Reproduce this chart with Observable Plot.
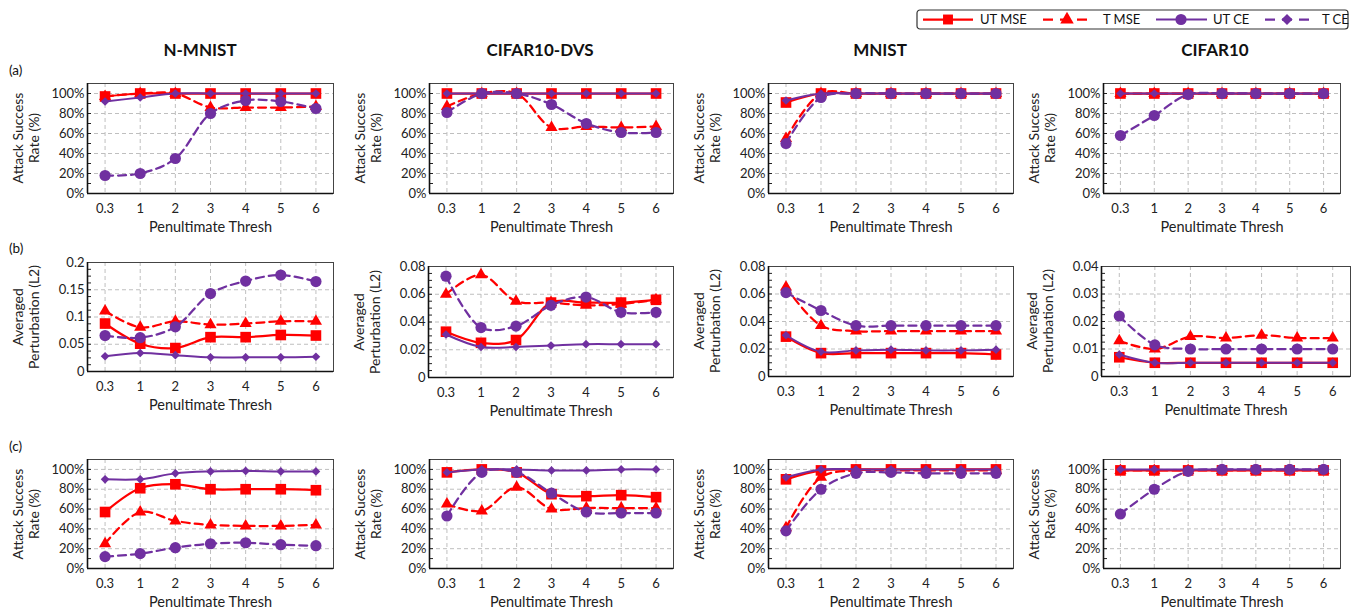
<!DOCTYPE html>
<html><head><meta charset="utf-8">
<script src="https://cdn.jsdelivr.net/npm/d3@7"></script>
<script src="https://cdn.jsdelivr.net/npm/@observablehq/plot@0.6"></script>
<style>
body{margin:0;background:#fff;font-family:Lato,"Open Sans",sans-serif;color:#111;}
#root{position:relative;width:1353px;height:612px;overflow:hidden;}
.abs{position:absolute;white-space:nowrap;}
.title{font-weight:bold;font-size:17px;transform:translateX(-50%);}
.tag{font-size:13.5px;}
.ylab{font-size:14px;line-height:16px;text-align:center;color:#222;transform:translate(-50%,-50%) rotate(-90deg);}
</style></head><body><div id="root"></div>
<script>
const thresholds = ["0.3","1","2","3","4","5","6"];
const datasets = ["N-MNIST","CIFAR10-DVS","MNIST","CIFAR10"];
const rowTags = ["(a)","(b)","(c)"];
const seriesNames = ["UT MSE","T MSE","UT CE","T CE"];
const yLabels = [["Attack Success","Rate (%)"],["Averaged","Perturbation (L2)"],["Attack Success","Rate (%)"]];
const xTitle = "Penultimate Thresh";
const pctTicks = [0,0.2,0.4,0.6,0.8,1.0];
const l2Ticks = [[0,0.05,0.1,0.15,0.2],[0,0.02,0.04,0.06,0.08],[0,0.02,0.04,0.06,0.08],[0,0.01,0.02,0.03,0.04]];

// Row (a): attack success rate, one list per dataset (N-MNIST, CIFAR10-DVS, MNIST, CIFAR10)
const utMSE_a = [[0.97,1,1,1,1,1,1],[1,1,1,1,1,1,1],[0.91,1,1,1,1,1,1],[1,1,1,1,1,1,1]];
const tMSE_a  = [[0.97,1,1,0.86,0.86,0.86,0.87],[0.87,1,1,0.66,0.67,0.66,0.67],[0.55,1,1,1,1,1,1],[1,1,1,1,1,1,1]];
const utCE_a  = [[0.92,0.96,1,1,1,1,1],[1,1,1,1,1,1,1],[0.93,1,1,1,1,1,1],[1,1,1,1,1,1,1]];
const tCE_a   = [[0.18,0.20,0.35,0.80,0.93,0.92,0.85],[0.81,1,1,0.89,0.70,0.61,0.61],[0.50,0.96,1,1,1,1,1],[0.58,0.78,0.99,1,1,1,1]];
// Row (b): averaged perturbation (L2)
const utMSE_b = [[0.088,0.051,0.043,0.063,0.063,0.067,0.066],[0.033,0.025,0.027,0.054,0.054,0.054,0.056],[0.029,0.017,0.017,0.017,0.017,0.017,0.016],[0.007,0.005,0.005,0.005,0.005,0.005,0.005]];
const tMSE_b  = [[0.111,0.081,0.092,0.086,0.088,0.092,0.092],[0.060,0.074,0.055,0.054,0.052,0.053,0.056],[0.065,0.037,0.033,0.033,0.033,0.033,0.033],[0.013,0.010,0.0145,0.014,0.015,0.014,0.014]];
const utCE_b  = [[0.028,0.034,0.030,0.026,0.026,0.026,0.027],[0.031,0.022,0.022,0.023,0.024,0.024,0.024],[0.030,0.018,0.019,0.0195,0.019,0.019,0.0195],[0.008,0.005,0.005,0.005,0.005,0.005,0.005]];
const tCE_b   = [[0.066,0.062,0.082,0.143,0.166,0.177,0.165],[0.073,0.036,0.037,0.052,0.058,0.047,0.047],[0.061,0.048,0.037,0.037,0.037,0.037,0.037],[0.022,0.0115,0.010,0.010,0.010,0.010,0.010]];
// Row (c): attack success rate
const utMSE_c = [[0.57,0.81,0.85,0.80,0.80,0.80,0.79],[0.97,1,0.97,0.75,0.73,0.74,0.72],[0.90,0.99,1,1,1,1,1],[0.99,0.99,0.99,0.99,0.99,0.99,0.99]];
const tMSE_c  = [[0.25,0.57,0.48,0.44,0.43,0.43,0.44],[0.65,0.58,0.82,0.60,0.61,0.61,0.61],[0.41,0.92,0.99,0.99,0.99,0.99,0.99],[0.99,0.99,0.99,0.99,0.99,0.99,0.99]];
const utCE_c  = [[0.90,0.90,0.96,0.98,0.985,0.98,0.98],[0.97,1,1,0.99,0.99,1,1],[0.92,1,1,1,1,1,1],[1,1,1,1,1,1,1]];
const tCE_c   = [[0.12,0.15,0.21,0.25,0.26,0.24,0.23],[0.53,0.97,0.97,0.76,0.57,0.56,0.56],[0.38,0.80,0.96,0.97,0.96,0.96,0.96],[0.55,0.80,0.98,1,1,1,1]];

const rowData = [[utMSE_a,tMSE_a,utCE_a,tCE_a],[utMSE_b,tMSE_b,utCE_b,tCE_b],[utMSE_c,tMSE_c,utCE_c,tCE_c]];

const RED = "#FF0000", PURPLE = "#7030A0";
const seriesStyle = {
  "UT MSE": {color:RED, dash:null, symbol:"square", r:6.0, width:2.25},
  "T MSE":  {color:RED, dash:"8,5", symbol:"triangle", r:4.5, width:2.25},
  "UT CE":  {color:PURPLE, dash:null, symbol:"diamond2", r:3.9, width:2},
  "T CE":   {color:PURPLE, dash:"8,5", symbol:"circle", r:5.6, width:2.25}
};

// layout: plot frame boxes [left, right, top, bottom] per row/col
const frames = [
  [[87,333,83,193],[429,673,83,193],[768,1013,83,193],[1103,1340,83,193]],
  [[87,333,262,371],[428,673,266,377],[768,1013,266,376],[1101,1350,266,376]],
  [[87,333,459,568],[429,673,459,568],[768,1013,459,568],[1103,1340,459,568]]
];
const titleX = [200,540,880,1215];
const tagY = [62,240,438];

const root = document.getElementById("root");
const fontFam = "Lato, 'Open Sans', sans-serif";

function panel(row, col){
  const [L,R,T,B] = frames[row][col];
  const mL=82, mR=4, mT=8, mB=46;
  const data = [];
  seriesNames.forEach((s,k)=>rowData[row][k][col].forEach((v,i)=>data.push({s,i,v})));
  const yTicks = row===1 ? l2Ticks[col] : pctTicks;
  const yMax = row===1 ? yTicks[yTicks.length-1] : 1.1;
  const major = yTicks[1]-yTicks[0];
  const minorStep = row===1 ? major/4 : major/2;
  const minor = d3.range(1, Math.round(yMax/minorStep)).map(k=>k*minorStep);
  const step = (R-L)/7;
  const fmt = row===1 ? (d=>d3.format("~g")(+d.toFixed(4))) : (d=>Math.round(d*100)+"%");
  const idx = d3.range(thresholds.length);
  const marks = [
    Plot.gridY(yTicks.slice(1), {stroke:"#bfbfbf", strokeOpacity:1, strokeDasharray:"4,3"}),
    Plot.gridX(idx, {stroke:"#bfbfbf", strokeOpacity:1, strokeDasharray:"4,3"}),
    Plot.ruleY(minor, {x1:-0.5, x2:-0.5+4/step, stroke:"#222", strokeWidth:1}),
    Plot.frame({stroke:"#444", strokeWidth:1}),
    Plot.ruleX([-0.5], {stroke:"#111", strokeWidth:1.6}),
    Plot.ruleY([0], {stroke:"#111", strokeWidth:1.6}),
    Plot.axisY(yTicks, {tickSize:0, tickPadding:3, tickFormat:fmt, label:null, fontSize:13, fill:"#222"}),
    Plot.axisX(idx, {tickSize:0, tickPadding:10, tickFormat:i=>thresholds[i], label:null, fontSize:13, fill:"#222"}),
    Plot.text([xTitle], {frameAnchor:"bottom", dy:38, fontSize:14.5, fill:"#222"})
  ];
  seriesNames.forEach(s=>{
    const st = seriesStyle[s];
    const d = data.filter(e=>e.s===s);
    marks.push(Plot.line(d, {x:"i", y:"v", stroke:st.color, strokeWidth:st.width, strokeDasharray:st.dash||undefined, curve:"catmull-rom"}));
    marks.push(Plot.dot(d, {x:"i", y:"v", symbol:st.symbol, r:st.r, fill:st.color, stroke:"none"}));
  });
  const svg = Plot.plot({
    width: R-L+mL+mR, height: B-T+mT+mB,
    marginLeft:mL, marginRight:mR, marginTop:mT, marginBottom:mB,
    x:{type:"linear", domain:[-0.5, thresholds.length-0.5]},
    y:{domain:[0,yMax]},
    style:{fontFamily:fontFam, fontSize:"13px", background:"transparent", overflow:"visible"},
    marks
  });
  svg.classList.add("abs");
  svg.style.left = (L-mL)+"px";
  svg.style.top = (T-mT)+"px";
  root.appendChild(svg);

  const lab = document.createElement("div");
  lab.className = "abs ylab";
  yLabels[row].forEach(t=>{ const ln=document.createElement("div"); ln.textContent=t; lab.appendChild(ln); });
  lab.style.left = (L-61)+"px";
  lab.style.top = ((T+B)/2)+"px";
  root.appendChild(lab);
}

for (let r=0;r<3;r++) for (let c=0;c<4;c++) panel(r,c);

datasets.forEach((d,c)=>{
  const el = document.createElement("div");
  el.className="abs title"; el.textContent=d;
  el.style.left=titleX[c]+"px"; el.style.top="39px";
  root.appendChild(el);
});
rowTags.forEach((t,r)=>{
  const el = document.createElement("div");
  el.className="abs tag"; el.textContent=t;
  el.style.left="9px"; el.style.top=tagY[r]+"px";
  root.appendChild(el);
});

// legend
(function(){
  const W=431,H=19;
  const svg = d3.create("svg").attr("width",W+2).attr("height",H+2)
    .attr("class","abs").style("left","916px").style("top","9px")
    .style("font-family",fontFam).style("font-size","13px");
  svg.append("rect").attr("x",1).attr("y",1).attr("width",W).attr("height",H).attr("rx",3)
    .attr("fill","#fff").attr("stroke","#333").attr("stroke-width",1.2);
  const pos = [[7,57,32,64],[127,174,151,187],[240,291,265,297],[349,394,371,406]];
  const cy = H/2+1;
  const symMap = {square:d3.symbolSquare, triangle:d3.symbolTriangle, circle:d3.symbolCircle, diamond2:d3.symbolDiamond2};
  // legend symbols as in the original legend: UT CE circle, T CE diamond
  const legendSym = {"UT MSE":["square",5.6],"T MSE":["triangle",5],"UT CE":["circle",5.6],"T CE":["diamond2",5]};
  seriesNames.forEach((s,k)=>{
    const st = seriesStyle[s]; const [x1,x2,xm,xt]=pos[k];
    svg.append("line").attr("x1",x1).attr("x2",x2).attr("y1",cy).attr("y2",cy)
      .attr("stroke",st.color).attr("stroke-width",st.width)
      .attr("stroke-dasharray", st.dash ? "10,7" : null);
    const [sym, rr] = legendSym[s];
    svg.append("path").attr("transform",`translate(${xm},${cy})`)
      .attr("d", d3.symbol(symMap[sym], Math.PI*rr*rr)()).attr("fill",st.color);
    svg.append("text").attr("x",xt).attr("y",cy).attr("dy","0.35em").attr("fill","#111").text(s);
  });
  root.appendChild(svg.node());
})();
</script>
</body></html>
